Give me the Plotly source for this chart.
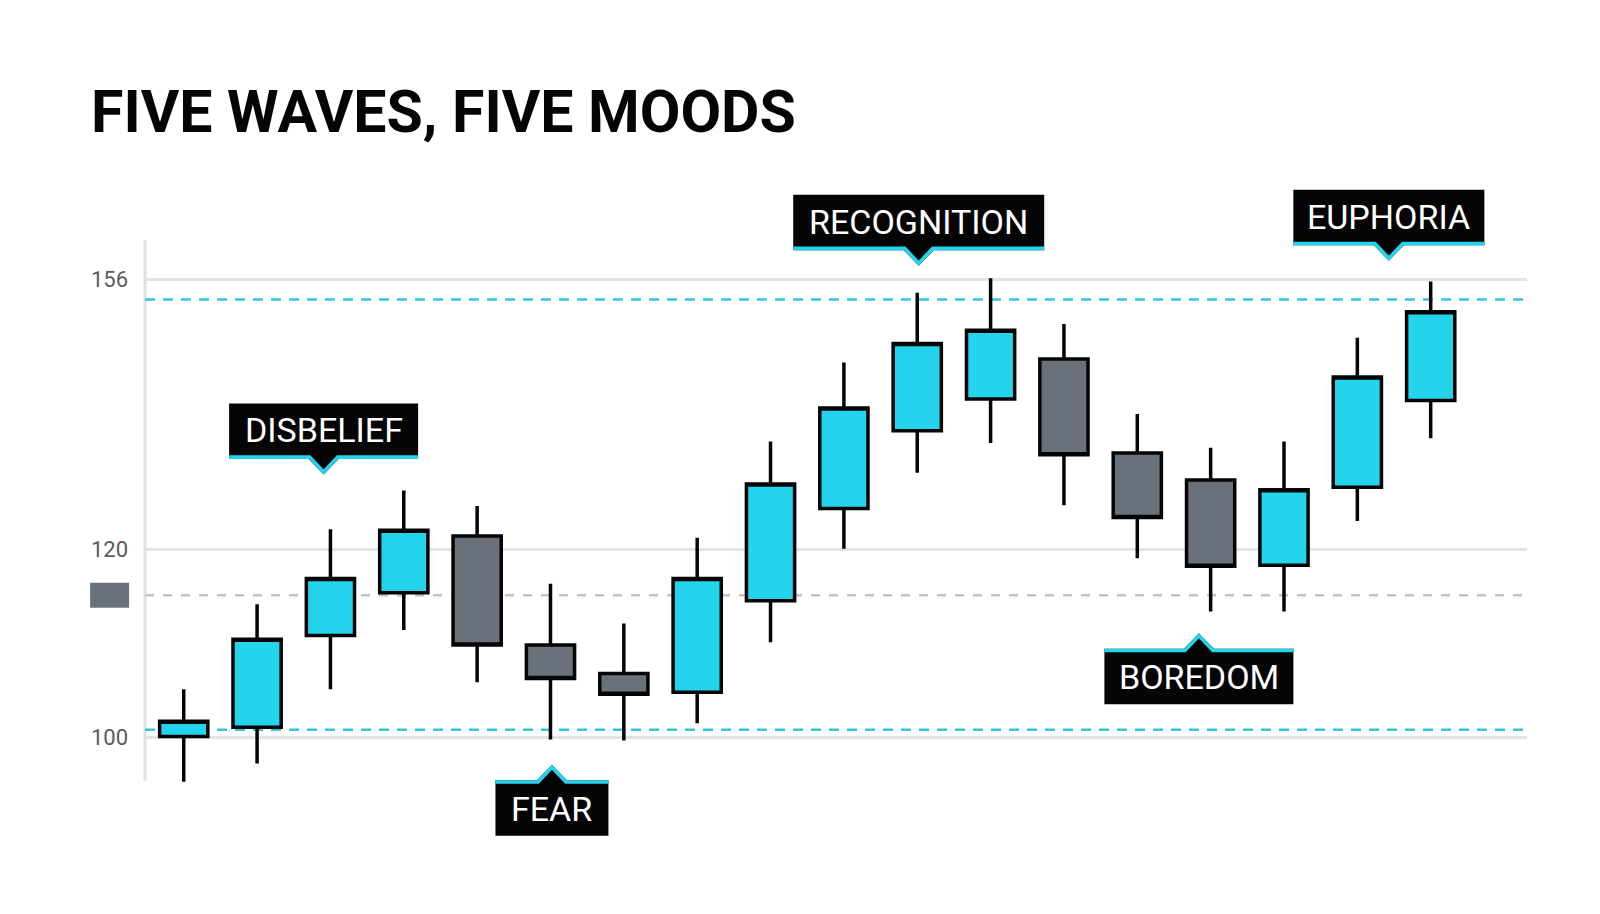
import math

import plotly.graph_objects as go

# candles (index along the wave sequence)
candle_index = list(range(18))
open_ = [100.1, 101.0, 110.4, 115.1, 121.6, 109.4, 106.4, 104.5, 114.2,
         124.9, 134.7, 138.9, 144.4, 131.8, 128.4, 118.2, 127.5, 138.7]
high = [104.8, 113.8, 122.4, 127.1, 125.2, 116.1, 111.7, 121.4, 133.3,
        143.9, 154.0, 156.2, 149.4, 136.9, 132.5, 133.3, 147.4, 155.7]
low = [95.8, 97.5, 104.8, 111.0, 105.5, 99.8, 99.7, 101.4, 109.7,
       120.1, 129.3, 133.1, 125.3, 119.0, 113.0, 113.0, 123.4, 133.7]
close = [101.6, 110.0, 116.7, 122.3, 109.4, 105.9, 104.3, 116.7, 127.9,
         137.7, 146.6, 148.5, 131.6, 123.8, 118.1, 127.2, 141.9, 151.2]

tick_values = [100, 120, 156]
tick_labels = ["100", "120", "156"]

# reference levels
band_levels = [100.75, 153.0]
mid_level = 114.8

mood_labels = ["DISBELIEF", "FEAR", "RECOGNITION", "BOREDOM", "EUPHORIA"]

CYAN = "#24d3ec"
CYAN_LINE = "#35c6dc"
SLATE = "#6b717b"
INK = "#050505"
FONT = "Roboto, Noto Sans, sans-serif"

# callout placement: tip x (candle units), tip y (price), width px, pointing
callout_layout = [
    (1.907, 129.1, 189, "down"),
    (5.02, 97.4, 113, "up"),
    (10.02, 158.1, 251, "down"),
    (13.84, 110.65, 189, "up"),
    (16.43, 158.85, 191, "down"),
]

fig = go.Figure()

fig.add_trace(go.Candlestick(
    x=candle_index, open=open_, high=high, low=low, close=close,
    increasing=dict(fillcolor=CYAN, line=dict(color=INK, width=3.5)),
    decreasing=dict(fillcolor=SLATE, line=dict(color=INK, width=3.5)),
    whiskerwidth=0,
    showlegend=False,
    hoverinfo="skip",
))

shapes = []
# axis line on the left
shapes.append(dict(type="line", xref="paper", yref="y", x0=0, x1=0,
                   y0=95.9, y1=162.1, layer="between",
                   line=dict(color="#e1e1e1", width=3)))
for lvl in band_levels:
    shapes.append(dict(type="line", xref="paper", yref="y", x0=0, x1=1,
                       y0=lvl, y1=lvl, layer="between",
                       line=dict(color=CYAN_LINE, width=2.5, dash="10px,8px")))
shapes.append(dict(type="line", xref="paper", yref="y", x0=0, x1=1,
                   y0=mid_level, y1=mid_level, layer="between",
                   line=dict(color="#c4c4c4", width=2.5, dash="9px,9px")))
# small marker on the axis for the mid level
shapes.append(dict(type="path", xref="paper", yref="y",
                   xsizemode="pixel", ysizemode="pixel",
                   xanchor=-0.0256, yanchor=mid_level,
                   path="M -19.5,-12.5 L 19.5,-12.5 L 19.5,12.5 L -19.5,12.5 Z",
                   fillcolor=SLATE, line=dict(width=0)))

annotations = []
for label, (tx, ty, w, direction) in zip(mood_labels, callout_layout):
    s = 1 if direction == "down" else -1
    hw = w / 2
    top, bot, tri = 71 * s, 15.5 * s, 15
    body = (f"M {-hw},{top} L {hw},{top} L {hw},{bot} L {tri},{bot} "
            f"L 0,0 L {-tri},{bot} L {-hw},{bot} Z")
    shapes.append(dict(type="path", xref="x", yref="y",
                       xsizemode="pixel", ysizemode="pixel",
                       xanchor=tx, yanchor=ty, path=body,
                       fillcolor=INK, line=dict(width=0)))
    eb, et = bot + 1.8 * s, 2.5 * s
    edge = (f"M {-hw},{eb} L {-tri + 1},{eb} L 0,{et} "
            f"L {tri - 1},{eb} L {hw},{eb}")
    shapes.append(dict(type="path", xref="x", yref="y",
                       xsizemode="pixel", ysizemode="pixel",
                       xanchor=tx, yanchor=ty, path=edge,
                       line=dict(color=CYAN, width=3.6)))
    annotations.append(dict(
        x=tx, y=math.log10(ty), xref="x", yref="y", text=label,
        showarrow=False, xanchor="center", yanchor="middle", yshift=44 * s,
        font=dict(family=FONT, size=34, color="white"),
    ))

fig.update_layout(
    width=1600, height=914,
    paper_bgcolor="white", plot_bgcolor="white",
    margin=dict(l=137, r=81, t=175, b=79),
    boxgap=0.343, boxgroupgap=0,
    title=dict(
        text="FIVE WAVES, FIVE MOODS",
        xref="container", yref="container", x=0.0519, y=0.887,
        xanchor="left", yanchor="middle",
        font=dict(family=FONT, size=59, color=INK, weight=700),
    ),
    shapes=shapes,
    annotations=annotations,
    xaxis=dict(range=[-0.528, 18.313], showgrid=False, zeroline=False,
               showticklabels=False, showline=False,
               rangeslider=dict(visible=False)),
    yaxis=dict(type="log", range=[1.95552, 2.23379],
               tickvals=tick_values, ticktext=tick_labels,
               showgrid=True, gridcolor="#e3e3e3", gridwidth=2.5,
               zeroline=False, showline=False, ticks="",
               ticklabelstandoff=16,
               tickfont=dict(family=FONT, size=22, color="#5b5b5b")),
)

fig.write_html("out.html")
